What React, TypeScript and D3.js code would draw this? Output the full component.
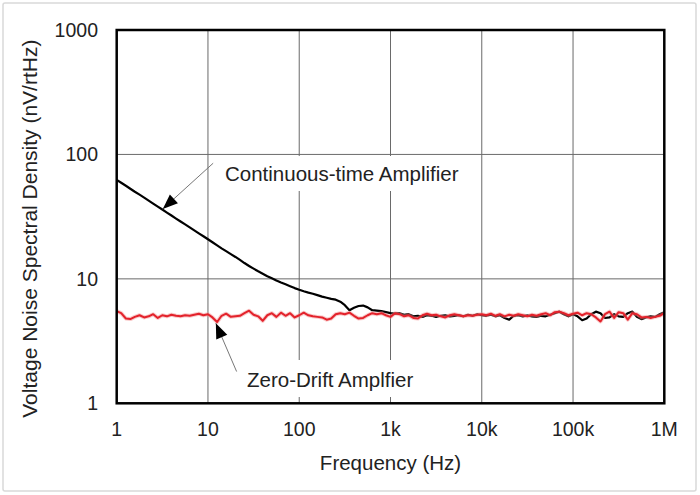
import React from "react";
import * as d3 from "d3";

const FREQ: number[] = [
  1, 1.12, 1.26, 1.41, 1.58, 1.78, 2, 2.24, 2.51, 2.82, 3.16, 3.55, 3.98, 4.47, 5.01, 5.62, 6.31, 7.08, 7.94, 8.91,
  10, 11.2, 12.6, 14.1, 15.8, 17.8, 20, 22.4, 25.1, 28.2, 31.6, 35.5, 39.8, 44.7, 50.1, 56.2, 63.1, 70.8, 79.4, 89.1,
  100, 112, 126, 141, 158, 178, 200, 224, 251, 282, 316, 355, 398, 447, 501, 562, 631, 708, 794, 891,
  1000, 1120, 1260, 1410, 1580, 1780, 2000, 2240, 2510, 2820, 3160, 3550, 3980, 4470, 5010, 5620, 6310, 7080, 7940, 8910,
  10000, 11200, 12600, 14100, 15800, 17800, 20000, 22400, 25100, 28200, 31600, 35500, 39800, 44700, 50100, 56200, 63100, 70800, 79400, 89100,
  100000, 112000, 126000, 141000, 158000, 178000, 200000, 224000, 251000, 282000, 316000, 355000, 398000, 447000, 501000, 562000, 631000, 708000, 794000, 891000,
  1000000,
];

const CONTINUOUS: number[] = [
  62.5, 59.2, 56.0, 53.0, 50.1, 47.5, 45.0, 42.6, 40.3, 38.1, 36.1, 34.1, 32.3, 30.5, 28.9, 27.4, 25.9, 24.5, 23.2, 22.0,
  20.8, 19.7, 18.6, 17.6, 16.7, 15.8, 15.0, 14.2, 13.4, 12.7, 12.08, 11.5, 11.0, 10.5, 10.1, 9.7, 9.35, 9.04, 8.73, 8.43,
  8.17, 7.95, 7.75, 7.6, 7.4, 7.2, 7.05, 6.9, 6.8, 6.55, 6.15, 5.6, 5.85, 6.05, 6.1, 5.9, 5.6, 5.55, 5.5, 5.4,
  5.3, 5.25, 5.3, 5.15, 5.2, 5.0, 5.05, 4.95, 5.1, 5.05, 4.95, 5.05, 5.1, 5.0, 5.05, 5.1, 5.0, 5.15, 5.05, 5.2,
  5.1, 5.05, 5.15, 5.0, 5.1, 4.85, 4.7, 5.05, 5.1, 5.0, 5.1, 5.0, 4.95, 5.05, 5.0, 5.15, 5.3, 5.45, 5.2, 5.0,
  5.2, 5.0, 4.65, 4.8, 5.2, 5.45, 5.3, 4.85, 4.9, 5.2, 5.0, 4.95, 5.3, 5.45, 4.95, 4.75, 4.9, 5.0, 4.95, 5.2,
  5.4,
];

const ZERO_DRIFT: number[] = [
  5.5, 5.3, 4.8, 4.75, 4.95, 5.1, 4.9, 5.0, 5.2, 4.85, 5.1, 5.0, 5.15, 5.05, 5.0, 5.1, 5.05, 5.15, 5.25, 5.1,
  5.2, 4.9, 4.5, 5.05, 5.25, 4.95, 5.0, 5.05, 5.3, 5.55, 5.15, 5.0, 4.6, 5.1, 5.3, 4.95, 5.35, 5.05, 5.3, 4.9,
  5.1, 5.35, 5.1, 5.0, 4.95, 4.9, 4.7, 4.8, 5.2, 5.3, 5.2, 5.35, 5.05, 4.8, 4.85, 5.1, 5.3, 5.2, 5.3, 5.1,
  4.95, 5.3, 5.2, 5.0, 5.1, 4.85, 4.8, 5.1, 5.25, 5.1, 5.15, 5.0, 4.9, 5.1, 5.2, 5.1, 5.0, 5.1, 5.05, 5.15,
  5.2, 5.1, 5.25, 5.05, 5.2, 5.0, 5.15, 5.05, 5.2, 5.1, 5.0, 5.15, 5.05, 5.2, 5.3, 5.1, 5.4, 5.45, 5.3, 5.1,
  5.25, 5.35, 5.1, 5.3, 5.2, 4.9, 4.55, 5.2, 5.45, 4.85, 5.4, 5.3, 4.7, 5.3, 5.2, 4.9, 4.95, 4.85, 4.95, 5.05,
  5.3,
];

const X_TICKS: number[] = [1, 10, 100, 1000, 10000, 100000, 1000000];
const X_TICK_LABELS: string[] = ["1", "10", "100", "1k", "10k", "100k", "1M"];
const Y_TICKS: number[] = [1, 10, 100, 1000];
const Y_TICK_LABELS: string[] = ["1", "10", "100", "1000"];

const X_TITLE = "Frequency (Hz)";
const Y_TITLE = "Voltage Noise Spectral Density (nV/rtHz)";
const LABEL_CONT = "Continuous-time Amplifier";
const LABEL_ZERO = "Zero-Drift Amplfier";

const W = 700;
const H = 495;
const L = 116.7;
const R = 664.3;
const T = 30;
const B = 403.3;
const FONT = "'Liberation Sans', Arial, Helvetica, sans-serif";

export default function App() {
  const x = d3.scaleLog().domain([1, 1e6]).range([L, R]);
  const y = d3.scaleLog().domain([1, 1000]).range([B, T]);

  const line = d3
    .line<[number, number]>()
    .x((d) => x(d[0]))
    .y((d) => y(d[1]));

  const contPts: [number, number][] = FREQ.map((f, i) => [f, CONTINUOUS[i]]);
  const zeroPts: [number, number][] = FREQ.map((f, i) => [f, ZERO_DRIFT[i]]);

  // annotation arrows (tip on curve, tail near label)
  const a1Tail = [x(11.4), y(85)];
  const a1Tip = [x(3.2), y(36.5)];
  const a2Tail = [x(20.6), y(1.8)];
  const a2Tip = [x(12.2), y(4.4)];

  const arrowHead = (tail: number[], tip: number[], len: number, half: number) => {
    const dx = tip[0] - tail[0];
    const dy = tip[1] - tail[1];
    const d = Math.hypot(dx, dy);
    const ux = dx / d;
    const uy = dy / d;
    const bx = tip[0] - ux * len;
    const by = tip[1] - uy * len;
    const p1 = [bx - uy * half, by + ux * half];
    const p2 = [bx + uy * half, by - ux * half];
    return `M${tip[0]},${tip[1]}L${p1[0]},${p1[1]}L${p2[0]},${p2[1]}Z`;
  };

  return (
    <svg
      width={W}
      height={H}
      style={{ position: "absolute", left: 0, top: 0, background: "#fff" }}
      fontFamily={FONT}
    >
      <rect x={0} y={0} width={W} height={H} fill="#fff" />
      <rect x={3} y={3} width={693} height={488} fill="none" stroke="#d9d9d9" strokeWidth={1.5} rx={2} />

      {/* grid */}
      <g stroke="#6a6a6a" strokeWidth={1}>
        {X_TICKS.slice(1, -1).map((t) => (
          <line key={"gx" + t} x1={x(t)} x2={x(t)} y1={T} y2={B} />
        ))}
        {Y_TICKS.slice(1, -1).map((t) => (
          <line key={"gy" + t} x1={L} x2={R} y1={y(t)} y2={y(t)} />
        ))}
      </g>

      {/* label backgrounds */}
      <rect x={216} y={156} width={256} height={35} fill="#fff" />
      <rect x={238} y={360} width={186} height={37} fill="#fff" />

      {/* series */}
      <path d={line(contPts) || ""} fill="none" stroke="#000" strokeWidth={2.2} strokeLinejoin="round" />
      <path d={line(zeroPts) || ""} fill="none" stroke="#f28b8b" strokeOpacity={0.45} strokeWidth={4} strokeLinejoin="round" />
      <path d={line(zeroPts) || ""} fill="none" stroke="#e3222b" strokeWidth={2} strokeLinejoin="round" />

      {/* plot frame */}
      <rect x={L} y={T} width={R - L} height={B - T} fill="none" stroke="#000" strokeWidth={2.5} />

      {/* annotations */}
      <line x1={a1Tail[0]} y1={a1Tail[1]} x2={a1Tip[0]} y2={a1Tip[1]} stroke="#777" strokeWidth={1} />
      <path d={arrowHead(a1Tail, a1Tip, 15, 6)} fill="#000" />
      <text x={225} y={181} fontSize={20.5} fill="#222">{LABEL_CONT}</text>

      <line x1={a2Tail[0]} y1={a2Tail[1]} x2={a2Tip[0]} y2={a2Tip[1]} stroke="#777" strokeWidth={1} />
      <path d={arrowHead(a2Tail, a2Tip, 15, 6)} fill="#000" />
      <text x={247} y={387} fontSize={20.5} fill="#222">{LABEL_ZERO}</text>

      {/* x tick labels */}
      {X_TICKS.map((t, i) => (
        <text key={"xt" + t} x={x(t)} y={436} fontSize={19.5} textAnchor="middle" fill="#222">
          {X_TICK_LABELS[i]}
        </text>
      ))}
      {/* y tick labels */}
      {Y_TICKS.map((t, i) => (
        <text key={"yt" + t} x={98} y={y(t)} dy="0.36em" fontSize={19.5} textAnchor="end" fill="#222">
          {Y_TICK_LABELS[i]}
        </text>
      ))}

      <text x={(L + R) / 2} y={470} fontSize={20.5} textAnchor="middle" fill="#222">
        {X_TITLE}
      </text>
      <text
        transform={`translate(37,${(T + B) / 2 + 12}) rotate(-90)`}
        fontSize={21}
        textAnchor="middle"
        fill="#222"
      >
        {Y_TITLE}
      </text>
    </svg>
  );
}
